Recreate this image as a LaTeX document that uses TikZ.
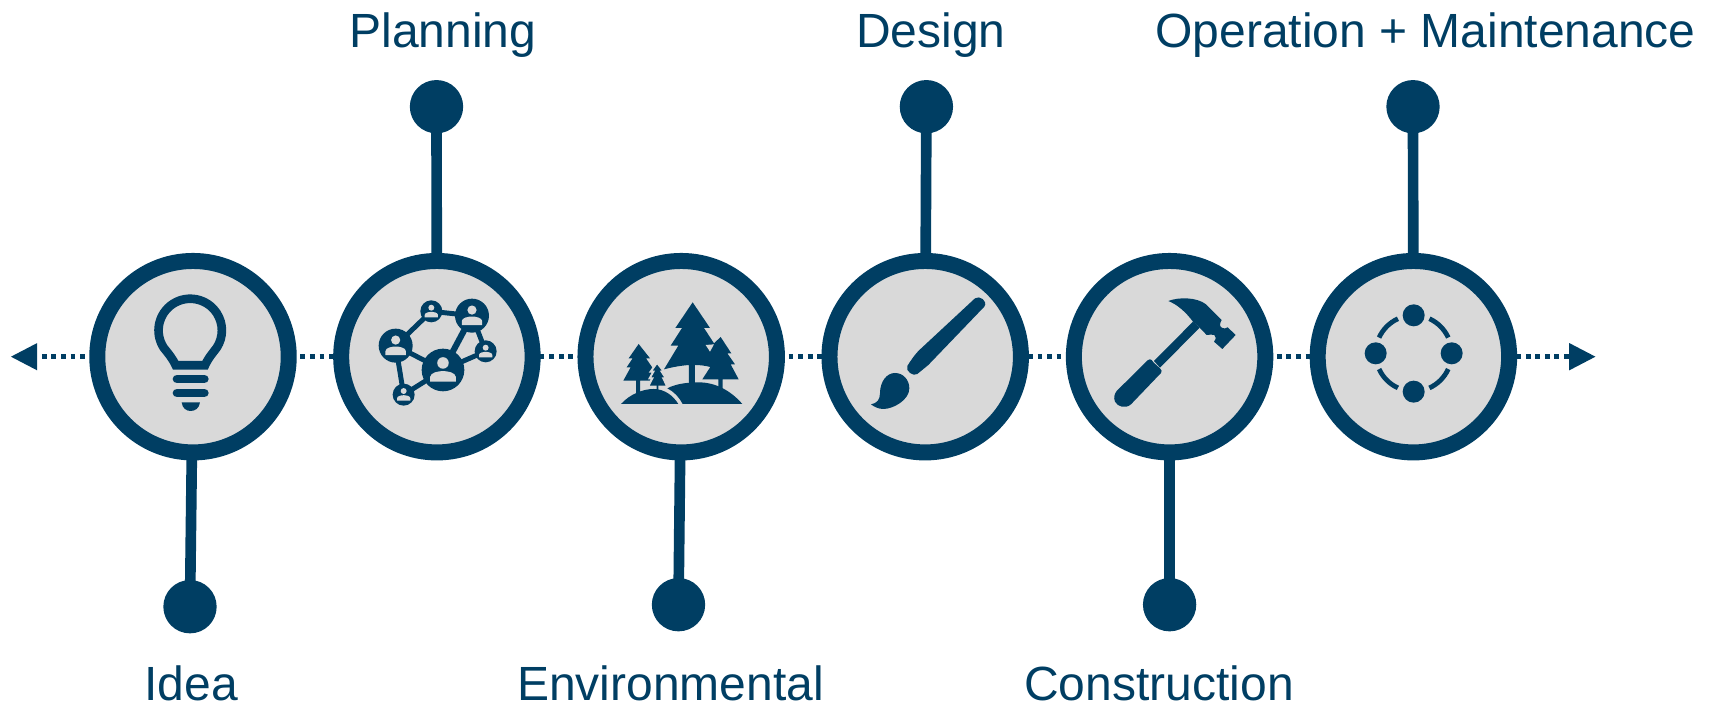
\documentclass[tikz,border=0pt]{standalone}
\usepackage{fontspec}
\setmainfont{Liberation Sans}
\usetikzlibrary{arrows.meta}
\definecolor{navy}{HTML}{003E63}
\definecolor{disc}{HTML}{D9D9D9}
\newcommand{\netperson}[3]{%
  \begin{scope}[shift={(#1,#2)},scale=#3]
    \fill[navy] (0,0) circle[radius=1];
    \fill[disc] (0,-.33) circle[radius=.27];
    \fill[disc] (-.6,.55) -- (-.6,.32) .. controls (-.6,.12) and (-.2,.05) .. (0,.05)
      .. controls (.2,.05) and (.6,.12) .. (.6,.32) -- (.6,.55) -- cycle;
  \end{scope}}
\tikzset{
  x=0.75pt,y=-0.75pt,
  stage/.style={circle,draw=navy,fill=disc,line width=12pt,minimum size=143.6pt,inner sep=0pt,outer sep=4pt},
  endpoint/.style={circle,fill=navy,minimum size=40pt,inner sep=0pt,outer sep=0pt},
  stem/.style={draw=navy,line width=8pt},
  axisline/.style={draw=navy,line width=3.6pt,dash pattern=on 3.59pt off 3.59pt,dash phase=2.8pt,
     {Triangle[length=19.9pt,width=19.5pt]}-{Triangle[length=19.9pt,width=19.5pt]}},
  label/.style={text=navy,font=\fontsize{36pt}{40pt}\selectfont,anchor=base,inner sep=0pt}
}
\begin{document}
\begin{tikzpicture}
\useasboundingbox (0,0) rectangle (1714,705);
\coordinate (axL) at (10.7,356.7);
\coordinate (axR) at (1595.7,356.7);
\draw[axisline] (axL) -- (axR);

\node[stage] (c1) at (193,356.7) {};
\node[stage] (c2) at (436.9,356.7) {};
\node[stage] (c3) at (681.2,356.7) {};
\node[stage] (c4) at (925.2,356.7) {};
\node[stage] (c5) at (1169.6,356.7) {};
\node[stage] (c6) at (1413.4,356.7) {};

\node[endpoint] (d1) at (190,606.7) {};
\node[endpoint] (d2) at (436.5,106.7) {};
\node[endpoint] (d3) at (678.5,604.7) {};
\node[endpoint] (d4) at (926.4,106.7) {};
\node[endpoint] (d5) at (1169.6,604.7) {};
\node[endpoint] (d6) at (1413,106.7) {};

\draw[stem] (c1) -- (d1.center);
\draw[stem] (c2) -- (d2.center);
\draw[stem] (c3) -- (d3.center);
\draw[stem] (c4) -- (d4.center);
\draw[stem] (c5) -- (d5.center);
\draw[stem] (c6) -- (d6.center);

\node[label] (t1) at (191,700) {Idea};
\node[label] (t2) at (443,47.7) {Planning};
\node[label] (t3) at (670.5,700) {Environmental};
\node[label] (t4) at (931,47.7) {Design};
\node[label] (t5) at (1159,700) {Construction};
\node[label] (t6) at (1425.5,47.7) {Operation + Maintenance};

% bulb
\begin{scope}[shift={(130,280)},scale=0.3333]
  \draw[navy,line width=6.5pt,line join=miter]
    (137,256) .. controls (127,234) and (116,222) .. (101,203)
    arc[start angle=147,end angle=393,radius=95]
    .. controls (246,222) and (235,234) .. (225,256) -- cycle;
  \draw[navy,line width=6.5pt,line cap=round] (141,297) -- (223,297);
  \draw[navy,line width=6.5pt,line cap=round] (141,339) -- (223,339);
  \fill[navy] (155,367) -- (210,367) .. controls (208,385) and (195,393) .. (182,393)
     .. controls (169,393) and (157,385) .. (155,367) -- cycle;
\end{scope}

% network
\begin{scope}[shift={(370,290)},scale=0.3333]
  \draw[navy,line width=3.7pt] (77,167) -- (184,64) -- (306,77) -- (347,184) -- (219,240) -- (101,314) -- (77,167) -- (219,240);
  \draw[navy,line width=4.6pt] (306,77) -- (219,240);
  \netperson{219}{240}{64}
  \netperson{306}{77}{51}
  \netperson{77}{167}{51}
  \netperson{184}{64}{33}
  \netperson{347}{184}{33}
  \netperson{101}{314}{33}
\end{scope}

% trees
\begin{scope}[shift={(610,290)},scale=0.3333]
  \fill[navy] (248,37) -- (300,114) -- (282,114) -- (312,160) -- (332,141) -- (364,190) -- (352,190)
     -- (375,223) -- (362,223) -- (386,268) -- (338,268) -- (338,298) -- (325,298) -- (325,268)
     -- (277,268) -- (301,231) .. controls (285,227) and (270,225) .. (255,225) -- (255,280) -- (237,280)
     -- (237,225) .. controls (210,227) and (185,232) .. (162,238) -- (205,167) -- (182,167)
     -- (216,114) -- (196,114) -- cycle;
  \fill[disc] (287,165) -- (312,163) -- (300,185) -- cycle;
  \fill[navy] (86,162) -- (120,205) -- (108,205) -- (132,240) -- (125,272) -- (90,272) -- (90,310)
     -- (78,310) -- (78,272) -- (40,272) -- (62,232) -- (50,232) -- (68,205) -- (56,205) -- cycle;
  \filldraw[navy,draw=disc,line width=1.5pt] (141,218) -- (162,245) -- (155,245) -- (168,265) -- (160,265) -- (172,290)
     -- (148,290) -- (148,305) -- (137,305) -- (137,290) -- (114,290) -- (127,265) -- (119,265)
     -- (130,245) -- (122,245) -- cycle;
  \fill[navy] (33,342) .. controls (60,312) and (100,297) .. (130,297)
     .. controls (165,297) and (190,318) .. (205,342) -- cycle;
  \fill[navy] (218,342) .. controls (208,322) and (192,305) .. (172,295)
     .. controls (200,280) and (240,277) .. (265,277)
     .. controls (320,277) and (365,305) .. (397,342) -- cycle;
\end{scope}

% brush
\begin{scope}[shift={(860,285)},scale=0.3333]
  \fill[navy] (142,243) .. controls (150,230) and (162,212) .. (175,198) -- (345,40)
    .. controls (358,30) and (385,48) .. (373,65)
    -- (205,240) -- (172,267) .. controls (160,276) and (135,258) .. (142,243) -- cycle;
  \fill[navy] (33,358) .. controls (50,355) and (60,345) .. (60,325)
    .. controls (60,290) and (80,264) .. (105,264)
    .. controls (130,264) and (148,285) .. (148,310)
    .. controls (148,345) and (100,372) .. (70,372)
    .. controls (55,372) and (42,365) .. (33,358) -- cycle;
\end{scope}

% hammer
\begin{scope}[shift={(1105,285)},scale=0.3333]
  \fill[navy] (147,228) -- (264,110) -- (284,128) -- (165,248) -- cycle;
  \fill[navy] (128,226) .. controls (132,222) and (136,222) .. (140,225) -- (145,232) -- (165,250)
    .. controls (170,255) and (172,260) .. (168,264) -- (78,358)
    .. controls (62,372) and (38,366) .. (30,350)
    .. controls (25,338) and (28,328) .. (35,318) -- cycle;
  \fill[navy] (190,48) .. controls (220,36) and (275,36) .. (303,58) -- (350,105)
    .. controls (345,115) and (342,122) .. (350,128) .. controls (356,133) and (362,130) .. (368,127)
    -- (392,150) -- (352,192) -- (327,170)
    .. controls (333,162) and (335,155) .. (328,150) .. controls (320,145) and (315,152) .. (305,150)
    -- (284,128) -- (264,110)
    .. controls (240,78) and (215,58) .. (190,48) -- cycle;
\end{scope}

% operation ring
\begin{scope}[shift={(1345,295)},scale=0.3333]
  \foreach \a in {45,135,225,315}{
    \draw[navy,line width=3.6pt] (206,175) ++(\a-20.5:114) arc[start angle=\a-20.5,end angle=\a+20.5,radius=114];
  }
  \fill[navy] (206,61) circle[radius=33];
  \fill[navy] (92,175) circle[radius=33];
  \fill[navy] (320,175) circle[radius=33];
  \fill[navy] (206,290) circle[radius=33];
\end{scope}
\end{tikzpicture}
\end{document}
